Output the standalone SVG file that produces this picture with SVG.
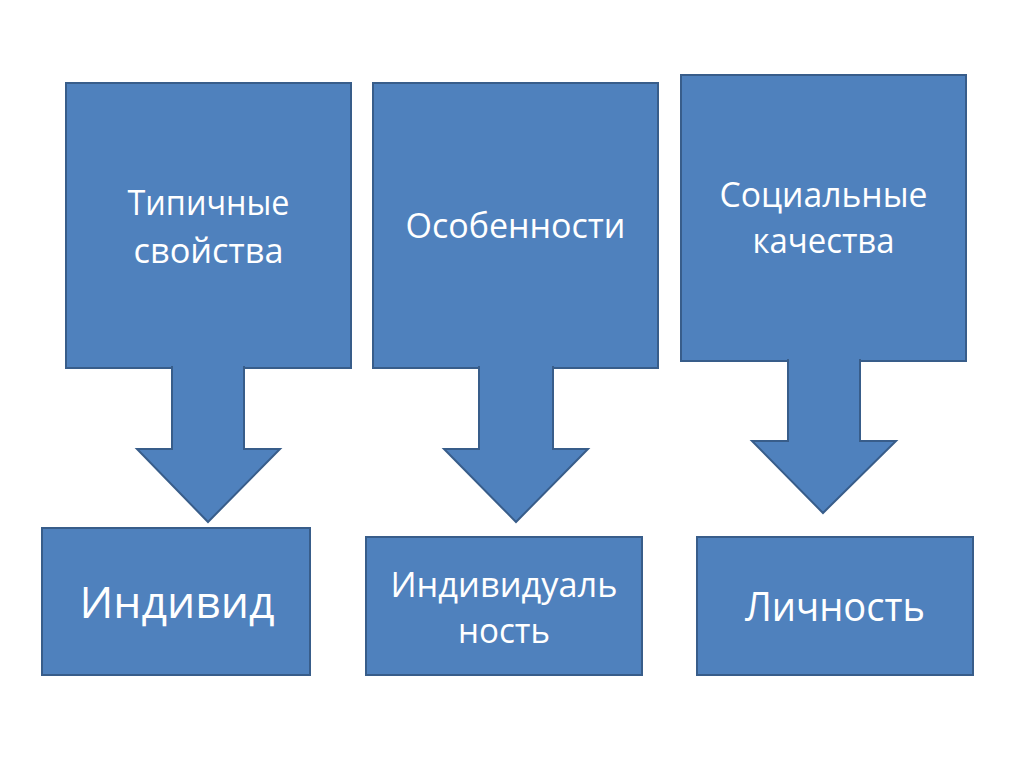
<svg xmlns="http://www.w3.org/2000/svg" width="1024" height="767" viewBox="0 0 1024 767">
<style>
.box{fill:#4F81BD;stroke:#385D8A;stroke-width:2}
.t{font-family:"Open Sans","Noto Sans","Liberation Sans",sans-serif;fill:#ffffff;text-anchor:middle}
.top{font-size:35px}
</style>
<rect width="1024" height="767" fill="#ffffff"/>
<g id="source-typical">
<rect class="box" x="66" y="83" width="285" height="285"/>
<text class="t top" x="208.5" y="215" textLength="162" lengthAdjust="spacingAndGlyphs">Типичные</text>
<text class="t top" x="208.5" y="263" textLength="150" lengthAdjust="spacingAndGlyphs">свойства</text>
</g>
<g id="source-features">
<rect class="box" x="373" y="83" width="285" height="285"/>
<text class="t top" x="515.5" y="238" textLength="220" lengthAdjust="spacingAndGlyphs">Особенности</text>
</g>
<g id="source-social">
<rect class="box" x="681" y="75" width="285" height="286"/>
<text class="t top" x="823.5" y="207" textLength="208" lengthAdjust="spacingAndGlyphs">Социальные</text>
<text class="t top" x="823.5" y="253" textLength="142" lengthAdjust="spacingAndGlyphs">качества</text>
</g>
<g id="connectors">
<path class="box" d="M172,366 L172,449 L137,449 L208,522 L280,449 L244,449 L244,366"/>
<path class="box" d="M479,366 L479,449 L444,449 L516,522 L588,449 L553,449 L553,366"/>
<path class="box" d="M788,359 L788,441 L752,441 L823,513 L896,441 L860,441 L860,359"/>
</g>
<g id="individ">
<rect class="box" x="42" y="528" width="268" height="147"/>
<text class="t" x="177" y="618" font-size="44" textLength="195" lengthAdjust="spacingAndGlyphs">Индивид</text>
</g>
<g id="individuality">
<rect class="box" x="366" y="537" width="276" height="138"/>
<text class="t" x="504" y="597" font-size="35" textLength="227" lengthAdjust="spacingAndGlyphs">Индивидуаль</text>
<text class="t" x="504" y="643" font-size="35" textLength="92" lengthAdjust="spacingAndGlyphs">ность</text>
</g>
<g id="personality">
<rect class="box" x="697" y="537" width="276" height="138"/>
<text class="t" x="835" y="621" font-size="40" textLength="180" lengthAdjust="spacingAndGlyphs">Личность</text>
</g>
</svg>
